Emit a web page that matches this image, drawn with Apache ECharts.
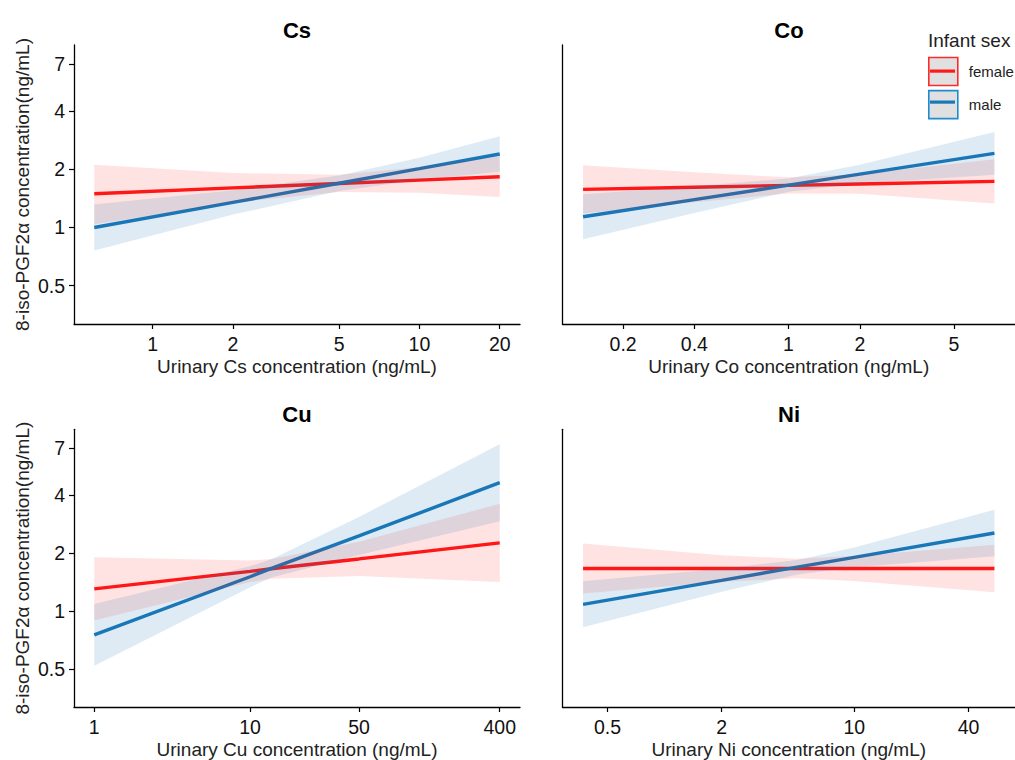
<!DOCTYPE html>
<html><head><meta charset="utf-8">
<script src="https://cdn.jsdelivr.net/npm/echarts@6/dist/echarts.min.js"></script>
<style>html,body{margin:0;padding:0;background:#fff}#c{width:1015px;height:760px}</style>
</head><body><div id="c"></div>
<script>
// ---- data (natural units) ----
const yTicks = [0.5, 1, 2, 4, 7];

const csTicks = [1, 2, 5, 10, 20];
const csX = [0.604, 2, 5, 10, 20];
const csFemale = [1.495, 1.603, 1.690, 1.759, 1.832];
const csFemaleLo = [1.04, 1.343, 1.525, 1.513, 1.437];
const csFemaleHi = [2.115, 1.914, 1.877, 2.048, 2.336];
const csMale = [1.0, 1.348, 1.695, 2.016, 2.402];
const csMaleLo = [0.760, 1.166, 1.546, 1.768, 1.945];
const csMaleHi = [1.316, 1.558, 1.857, 2.299, 2.967];

const coTicks = [0.2, 0.4, 1, 2, 5];
const coX = [0.1355, 0.4, 1, 2, 7.41];
const coFemale = [1.575, 1.616, 1.652, 1.679, 1.733];
const coFemaleLo = [1.182, 1.351, 1.501, 1.496, 1.332];
const coFemaleHi = [2.098, 1.933, 1.818, 1.885, 2.254];
const coMale = [1.136, 1.393, 1.657, 1.889, 2.421];
const coMaleLo = [0.870, 1.188, 1.530, 1.690, 1.877];
const coMaleHi = [1.484, 1.634, 1.795, 2.112, 3.125];

const cuTicks = [1, 10, 50, 400];
const cuX = [1, 10, 13.7, 50, 400];
const cuFemale = [1.302, 1.607, 1.657, 1.864, 2.260];
const cuFemaleLo = [0.892, 1.412, 1.472, 1.519, 1.414];
const cuFemaleHi = [1.900, 1.830, 1.865, 2.287, 3.611];
const cuMale = [0.750, 1.506, 1.665, 2.457, 4.646];
const cuMaleLo = [0.518, 1.327, 1.491, 1.956, 2.930];
const cuMaleHi = [1.086, 1.708, 1.859, 3.084, 7.366];

const niTicks = [0.5, 2, 10, 40];
const niX = [0.372, 2, 5, 10, 54.8];
const niFemale = [1.662, 1.662, 1.662, 1.662, 1.662];
const niFemaleLo = [1.232, 1.420, 1.477, 1.431, 1.252];
const niFemaleHi = [2.242, 1.946, 1.870, 1.930, 2.207];
const niMale = [1.082, 1.443, 1.689, 1.900, 2.543];
const niMaleLo = [0.821, 1.257, 1.548, 1.689, 1.923];
const niMaleHi = [1.425, 1.656, 1.841, 2.139, 3.364];

const panelTitles = ['Cs', 'Co', 'Cu', 'Ni'];
const xNames = ['Urinary Cs concentration (ng/mL)', 'Urinary Co concentration (ng/mL)',
                'Urinary Cu concentration (ng/mL)', 'Urinary Ni concentration (ng/mL)'];
const yName = '8-iso-PGF2\u03b1 concentration(ng/mL)';
const sexNames = ['female', 'male'];

// ---- styling / layout ----
const FONT = '"Liberation Sans", Arial, Helvetica, sans-serif';
const RED = '#ff1a1a', BLUE = '#1a78b8';
const RED_FILL = 'rgba(255,0,0,0.115)', BLUE_FILL = 'rgba(31,120,180,0.145)';
const grids = [
  {left: 74, top: 45, width: 446, height: 279},
  {left: 562.5, top: 45, width: 453, height: 279},
  {left: 74, top: 429.3, width: 446, height: 280},
  {left: 562.5, top: 429.3, width: 453, height: 280}
];
const Y_MIN = -0.5, Y_MAX = 0.945;

const panels = [
  {x: csX, ticks: csTicks, f: csFemale, fLo: csFemaleLo, fHi: csFemaleHi, m: csMale, mLo: csMaleLo, mHi: csMaleHi},
  {x: coX, ticks: coTicks, f: coFemale, fLo: coFemaleLo, fHi: coFemaleHi, m: coMale, mLo: coMaleLo, mHi: coMaleHi},
  {x: cuX, ticks: cuTicks, f: cuFemale, fLo: cuFemaleLo, fHi: cuFemaleHi, m: cuMale, mLo: cuMaleLo, mHi: cuMaleHi},
  {x: niX, ticks: niTicks, f: niFemale, fLo: niFemaleLo, fHi: niFemaleHi, m: niMale, mLo: niMaleLo, mHi: niMaleHi}
];

const L = Math.log10;
function fmt(ticks) {
  return function (v) {
    for (const t of ticks) if (Math.abs(L(t) - v) < 1e-6) return String(t);
    return '';
  };
}

const xAxes = [], yAxes = [], series = [], titles = [];
panels.forEach((p, i) => {
  const lx = p.x.map(L);
  const lo = lx[0], hi = lx[lx.length - 1], ex = 0.05 * (hi - lo);
  const left = (i % 2 === 0);
  xAxes.push({
    gridIndex: i, type: 'value', min: lo - ex, max: hi + ex,
    axisLine: {show: true, onZero: false, lineStyle: {color: '#000', width: 1.3}},
    axisTick: {show: true, length: 5, customValues: p.ticks.map(L), lineStyle: {color: '#000', width: 1.2}},
    axisLabel: {customValues: p.ticks.map(L), formatter: fmt(p.ticks), fontSize: 19.5, color: '#111', margin: 10, fontFamily: FONT},
    splitLine: {show: false},
    name: xNames[i], nameLocation: 'middle', nameGap: 33,
    nameTextStyle: {fontSize: 19, color: '#222', fontFamily: FONT}
  });
  yAxes.push({
    gridIndex: i, type: 'value', min: Y_MIN, max: Y_MAX,
    axisLine: {show: true, onZero: false, lineStyle: {color: '#000', width: 1.3}},
    axisTick: {show: left, length: 5, customValues: yTicks.map(L), lineStyle: {color: '#000', width: 1.2}},
    axisLabel: {show: left, customValues: yTicks.map(L), formatter: fmt(yTicks), fontSize: 19.5, color: '#111', margin: 9, fontFamily: FONT},
    splitLine: {show: false},
    name: left ? yName : '', nameLocation: 'middle', nameGap: 42,
    nameTextStyle: {fontSize: 19, color: '#222', fontFamily: FONT}
  });
  const g = grids[i];
  titles.push({
    text: panelTitles[i], left: g.left + g.width / 2, top: g.top - 15, textAlign: 'center', textVerticalAlign: 'middle',
    padding: 0, textStyle: {fontSize: 22, fontWeight: 'bold', color: '#000', fontFamily: FONT}
  });
  // fitted lines
  [[p.f, RED, sexNames[0]], [p.m, BLUE, sexNames[1]]].forEach(([arr, col, nm]) => {
    series.push({
      type: 'line', name: nm, xAxisIndex: i, yAxisIndex: i, z: 2, symbol: 'none', silent: true,
      data: arr.map((v, k) => [lx[k], L(v)]),
      lineStyle: {color: col, width: 3.4}, itemStyle: {color: col}
    });
  });
  // confidence ribbons: one polygon per band, vertices mapped by the axis scales
  [[p.fLo, p.fHi, RED_FILL, 'f', 3], [p.mLo, p.mHi, BLUE_FILL, 'm', 4]].forEach(([lo_, hi_, fill, tag, z]) => {
    const rows = lo_.map((v, k) => [lx[k], L(v), L(hi_[k])]);
    series.push({
      type: 'custom', name: 'band-' + tag + i, xAxisIndex: i, yAxisIndex: i, z: z, silent: true,
      coordinateSystem: 'cartesian2d',
      data: rows,
      encode: {x: 0, y: [1, 2]},
      renderItem: function (params, api) {
        if (params.dataIndex !== 0) return null;
        const upper = rows.map(r => api.coord([r[0], r[2]]));
        const lower = rows.map(r => api.coord([r[0], r[1]])).reverse();
        return {
          type: 'polygon',
          shape: {points: upper.concat(lower)},
          style: {fill: fill, stroke: null}
        };
      }
    });
  });
});

titles.push({
  text: 'Infant sex', left: 928, top: 40, textAlign: 'left', textVerticalAlign: 'middle', padding: 0,
  textStyle: {fontSize: 19, fontWeight: 'normal', color: '#222', fontFamily: FONT}
});

const chart = echarts.init(document.getElementById('c'), null, {renderer: 'svg'});
chart.setOption({
  animation: false,
  backgroundColor: '#fff',
  title: titles,
  grid: grids,
  xAxis: xAxes,
  yAxis: yAxes,
  legend: {
    orient: 'vertical', left: 928, top: 56.7, itemWidth: 29, itemHeight: 28, itemGap: 3.5, padding: 0,
    icon: 'rect', selectedMode: false,
    data: [
      {name: sexNames[0], itemStyle: {color: '#e0e0e0', borderColor: '#ff2a2a', borderWidth: 1.6}},
      {name: sexNames[1], itemStyle: {color: '#e0e0e0', borderColor: '#1f8bd0', borderWidth: 1.6}}
    ],
    textStyle: {fontSize: 15, color: '#222', fontFamily: FONT, padding: [0, 0, 0, 6]}
  },
  graphic: [
    {type: 'rect', left: 930, top: 69.5, shape: {width: 25, height: 3.2}, style: {fill: RED}, z: 100},
    {type: 'rect', left: 930, top: 100.5, shape: {width: 25, height: 3.2}, style: {fill: BLUE}, z: 100}
  ],
  series: series
});
</script>
</body></html>
